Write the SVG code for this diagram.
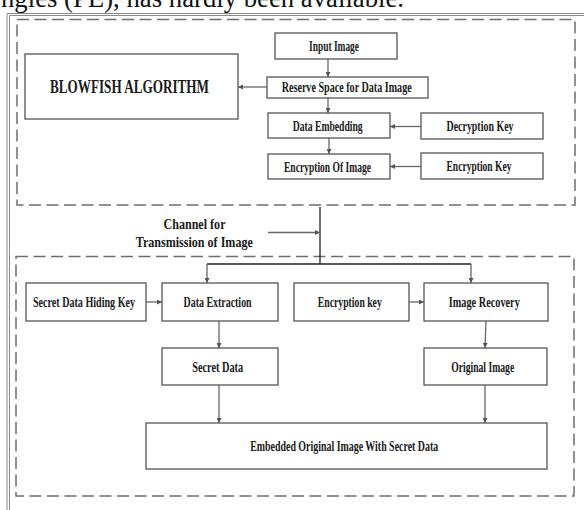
<svg xmlns="http://www.w3.org/2000/svg" width="584" height="510" viewBox="0 0 584 510">
<defs>
<style>
.box{fill:#fff;stroke:#555;stroke-width:1.3}
.dash{fill:none;stroke:#6e6e6e;stroke-width:1.5;stroke-dasharray:12 5.5}
.lbl{font-family:"Liberation Serif","Times New Roman",serif;font-weight:bold;font-size:14.5px;fill:#1a1a1a;text-anchor:middle}
.big{font-size:19px}
.con{fill:none;stroke:#666;stroke-width:1.3}
.dark{stroke:#222}
.frame{fill:none;stroke:#8a8a8a;stroke-width:1}
</style>
<marker id="ah" viewBox="0 0 6 6" refX="6" refY="3" markerWidth="5" markerHeight="5" markerUnits="userSpaceOnUse" orient="auto">
<path d="M0,0 L6,3 L0,6 z" fill="#555"/>
</marker>
</defs>
<rect width="584" height="510" fill="#fff"/>
<text x="1" y="7" font-family="Liberation Serif,'Times New Roman',serif" font-size="27" fill="#111" textLength="403" lengthAdjust="spacingAndGlyphs">ngles (PE), has hardly been available.</text>
<g id="frame">
<path class="frame" d="M7,510 V13.5 H584"/>
<path class="frame" d="M9.5,510 V15.5 H584"/>
<rect class="dash" x="17" y="19.5" width="558" height="185.5"/>
<rect class="dash" x="16" y="256.5" width="558" height="239.5"/>
</g>
<g id="connectors">
<line class="con" x1="328" y1="59" x2="328" y2="77" marker-end="url(#ah)"/>
<line class="con" x1="267" y1="87" x2="238" y2="87" marker-end="url(#ah)"/>
<line class="con" x1="328" y1="98" x2="328" y2="113" marker-end="url(#ah)"/>
<line class="con" x1="329" y1="138" x2="329" y2="154" marker-end="url(#ah)"/>
<line class="con" x1="421" y1="126.5" x2="390" y2="126.5" marker-end="url(#ah)"/>
<line class="con" x1="421" y1="166.5" x2="390" y2="166.5" marker-end="url(#ah)"/>
<line class="con dark" x1="320" y1="207" x2="320" y2="264"/>
<line class="con" x1="268" y1="232.5" x2="320" y2="232.5" marker-end="url(#ah)"/>
<line class="con dark" x1="207" y1="264" x2="471" y2="264"/>
<line class="con" x1="207" y1="264" x2="207" y2="283" marker-end="url(#ah)"/>
<line class="con" x1="471" y1="264" x2="471" y2="283" marker-end="url(#ah)"/>
<line class="con" x1="146" y1="302" x2="162" y2="302" marker-end="url(#ah)"/>
<line class="con" x1="409" y1="302" x2="424" y2="302" marker-end="url(#ah)"/>
<line class="con" x1="219" y1="321" x2="219" y2="348" marker-end="url(#ah)"/>
<line class="con" x1="486" y1="321" x2="485" y2="348" marker-end="url(#ah)"/>
<line class="con" x1="219" y1="385" x2="219" y2="423" marker-end="url(#ah)"/>
<line class="con" x1="485" y1="385" x2="485" y2="423" marker-end="url(#ah)"/>
</g>
<g id="input-image"><rect class="box" x="275" y="33" width="122" height="26"/><text class="lbl" x="334" y="51" textLength="50" lengthAdjust="spacingAndGlyphs">Input Image</text></g>
<g id="reserve-space"><rect class="box" x="267" y="77" width="161" height="21"/><text class="lbl" x="346.7" y="92" textLength="130" lengthAdjust="spacingAndGlyphs">Reserve Space for Data Image</text></g>
<g id="data-embedding"><rect class="box" x="268" y="113" width="122" height="25"/><text class="lbl" x="327.7" y="130.5" textLength="70" lengthAdjust="spacingAndGlyphs">Data Embedding</text></g>
<g id="encryption-of-image"><rect class="box" x="268" y="154" width="122" height="25"/><text class="lbl" x="327.5" y="171.5" textLength="87" lengthAdjust="spacingAndGlyphs">Encryption Of Image</text></g>
<g id="decryption-key"><rect class="box" x="421" y="113" width="122" height="26"/><text class="lbl" x="480" y="131" textLength="67" lengthAdjust="spacingAndGlyphs">Decryption Key</text></g>
<g id="encryption-key-top"><rect class="box" x="421" y="153" width="122" height="26"/><text class="lbl" x="479" y="171" textLength="65" lengthAdjust="spacingAndGlyphs">Encryption Key</text></g>
<g id="blowfish"><rect class="box" x="25" y="54" width="213" height="65"/><text class="lbl big" x="129.5" y="93" textLength="159" lengthAdjust="spacingAndGlyphs">BLOWFISH ALGORITHM</text></g>
<g id="channel"><text class="lbl" x="194.5" y="228.5" textLength="62" lengthAdjust="spacingAndGlyphs">Channel for</text><text class="lbl" x="194.3" y="246.5" textLength="117" lengthAdjust="spacingAndGlyphs">Transmission of Image</text></g>
<g id="secret-data-hiding-key"><rect class="box" x="26" y="283" width="120" height="38"/><text class="lbl" x="84" y="307" textLength="102" lengthAdjust="spacingAndGlyphs">Secret Data Hiding Key</text></g>
<g id="data-extraction"><rect class="box" x="162" y="283" width="116" height="38"/><text class="lbl" x="217.6" y="307" textLength="68" lengthAdjust="spacingAndGlyphs">Data Extraction</text></g>
<g id="encryption-key-bottom"><rect class="box" x="294" y="283" width="115" height="38"/><text class="lbl" x="349.8" y="307" textLength="64" lengthAdjust="spacingAndGlyphs">Encryption key</text></g>
<g id="image-recovery"><rect class="box" x="424" y="283" width="124" height="38"/><text class="lbl" x="484.3" y="307" textLength="71" lengthAdjust="spacingAndGlyphs">Image Recovery</text></g>
<g id="secret-data"><rect class="box" x="162" y="348" width="116" height="37"/><text class="lbl" x="217.7" y="371.5" textLength="51" lengthAdjust="spacingAndGlyphs">Secret Data</text></g>
<g id="original-image"><rect class="box" x="424" y="348" width="123" height="37"/><text class="lbl" x="482.7" y="371.5" textLength="63" lengthAdjust="spacingAndGlyphs">Original Image</text></g>
<g id="embedded"><rect class="box" x="146" y="423" width="401" height="46"/><text class="lbl" x="344.2" y="451" textLength="188" lengthAdjust="spacingAndGlyphs">Embedded Original Image With Secret Data</text></g>
</svg>
